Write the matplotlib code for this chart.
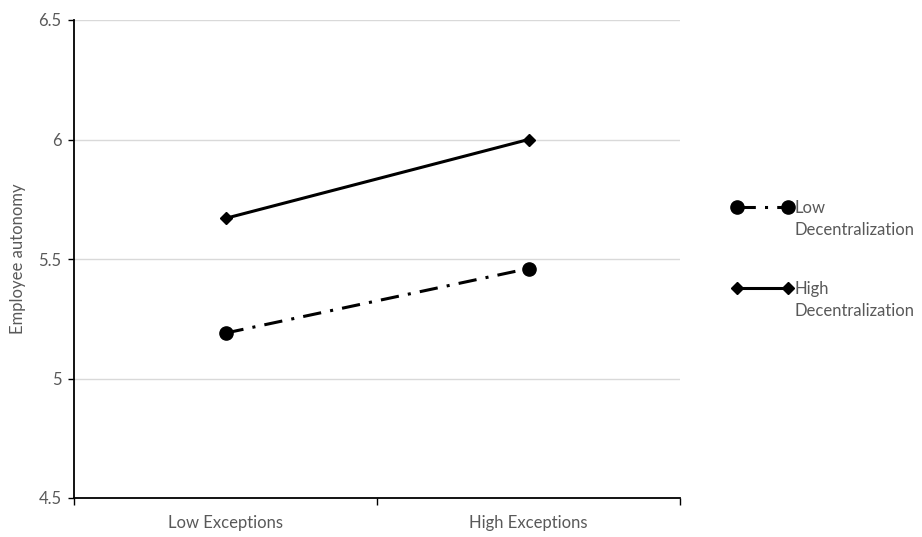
import matplotlib
matplotlib.use("Agg")
import matplotlib.pyplot as plt
from matplotlib.lines import Line2D
from matplotlib.ticker import FixedLocator, NullFormatter, FixedFormatter

categories = ["Low Exceptions", "High Exceptions"]
low_decentralization = [5.19, 5.46]
high_decentralization = [5.67, 6.0]
yticks = [4.5, 5, 5.5, 6, 6.5]
ytick_labels = ["4.5", "5", "5.5", "6", "6.5"]
series_names = ["Low\nDecentralization", "High\nDecentralization"]

plt.rcParams['font.family'] = ['Lato', 'DejaVu Sans']
gray = '#595959'
fs = 12

fig = plt.figure(figsize=(9.22, 5.37), dpi=100)
ax = fig.add_axes([74/922, 1-498/537, (680-74)/922, (498-20)/537])

x = [0.5, 1.5]
dash = (6, 3, 1, 3)
ax.plot(x, low_decentralization, color='black', lw=2.2, marker='o', markersize=9.5,
        linestyle=(0, dash), zorder=3)
ax.plot(x, high_decentralization, color='black', lw=2.2, marker='D', markersize=6.5,
        linestyle='-', zorder=3)

ax.set_xlim(0, 2)
ax.set_ylim(4.5, 6.5)
ax.set_yticks(yticks)
ax.set_yticklabels(ytick_labels)
ax.xaxis.set_major_locator(FixedLocator([0, 1, 2]))
ax.xaxis.set_major_formatter(NullFormatter())
ax.xaxis.set_minor_locator(FixedLocator(x))
ax.xaxis.set_minor_formatter(FixedFormatter(categories))
ax.tick_params(axis='x', which='minor', length=0, pad=12, labelsize=fs, labelcolor=gray)
ax.tick_params(axis='x', which='major', length=5, width=1, direction='out', color='black')
ax.tick_params(axis='y', length=4, width=1, direction='out', color='black', labelsize=fs, labelcolor=gray, pad=5)

ax.grid(axis='y', color='#d9d9d9', lw=1)
ax.set_axisbelow(True)
for s in ['top', 'right']:
    ax.spines[s].set_visible(False)
for s in ['left', 'bottom']:
    ax.spines[s].set_color('black')
    ax.spines[s].set_linewidth(1.3)

ax.set_ylabel("Employee autonomy", fontsize=fs, color=gray, labelpad=9)

# manual legend
def fx(px): return px/922
def fy(py): return 1-py/537
entries = [(207, 'o', 9.5, (0, dash)), (288, 'D', 6.5, '-')]
for (py, mk, ms, ls), name in zip(entries, series_names):
    fig.add_artist(Line2D([fx(737), fx(788)], [fy(py), fy(py)], color='black', lw=2.2,
                          linestyle=ls, transform=fig.transFigure))
    fig.add_artist(Line2D([fx(737), fx(788)], [fy(py), fy(py)], color='black', lw=0,
                          marker=mk, markersize=ms, transform=fig.transFigure))
    fig.text(fx(794), fy(py-7), name, fontsize=fs, color=gray, va='top', ha='left',
             linespacing=1.45)

fig.savefig("out.png", dpi=100)
